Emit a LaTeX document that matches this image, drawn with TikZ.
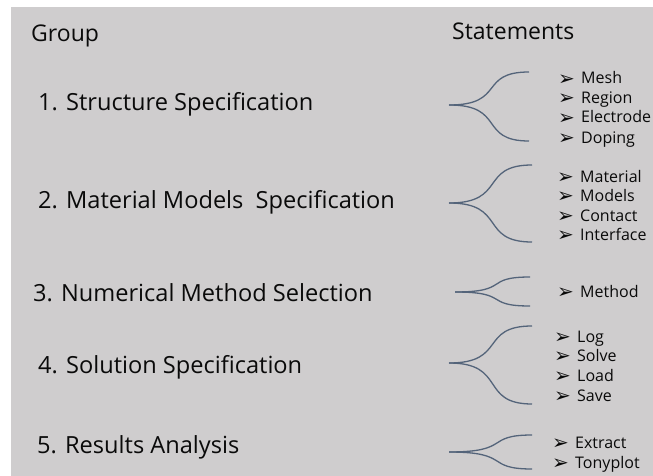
\documentclass[tikz,border=0pt]{standalone}
\usepackage{fontspec}
\setmainfont{Open Sans}
\newfontfamily\symfont{DejaVu Sans}
\definecolor{bggrey}{RGB}{207,205,206}
\definecolor{bracecol}{RGB}{84,100,122}
\definecolor{txt}{RGB}{10,10,10}
\begin{document}
\begin{tikzpicture}[x=1pt,y=-1pt,
  grp/.style={anchor=base west,inner sep=0pt,font=\fontsize{23.6}{27}\selectfont,text=txt},
  hdr/.style={anchor=base west,inner sep=0pt,font=\fontsize{23}{26}\selectfont,text=txt},
  itm/.style={anchor=base west,inner sep=0pt,font=\fontsize{16}{18}\selectfont,text=txt},
  bracestyle/.style={draw=bracecol,line width=1.3pt}]
\useasboundingbox (0,0) rectangle (653,476);
\fill[bggrey] (11,7) rectangle (653,476);
\newcommand{\itemtxt}[1]{\makebox[23pt][l]{\raisebox{-1.2pt}{\symfont\fontsize{20}{22}\selectfont ➢}}#1}
% headers
\node[hdr] (hgroup) at (31,42) {Group};
\node[hdr] (hstat) at (452,40) {Statements};
% groups
\node[grp] (g1) at (38,110.5) {1. Structure Specification};
\node[grp] (g2) at (38,208) {2. Material Models\ \ Specification};
\node[grp] (g3) at (33,301) {3. Numerical Method Selection};
\node[grp] (g4) at (38,373) {4. Solution Specification};
\node[grp] (g5) at (37,453) {5. Results Analysis};
% braces
\newcommand{\bracecurve}[5]{%
  \coordinate (tip#5) at (#1);
  \draw[bracestyle] (#1) .. controls (#2+14,\ty) and (#2-14,#3) .. (\ex,#3);
  \draw[bracestyle] (#1) .. controls (#2+14,\ty) and (#2-14,#4) .. (\ex,#4);}
\def\ty{105}\def\ex{529}
\bracecurve{449,105}{492}{72}{141}{a}
\def\ty{203}\def\ex{532}
\bracecurve{449,203}{493}{165}{242}{b}
\def\ty{292}\def\ex{530}
\bracecurve{455,292}{497}{277}{306}{c}
\def\ty{363}\def\ex{532}
\bracecurve{449,363}{493}{326}{404}{d}
\def\ty{452}\def\ex{532}
\bracecurve{449,452}{498}{435}{469}{e}
% items
\node[itm] (i1a) at (558,84) {\itemtxt{Mesh}};
\node[itm] (i1b) at (558,103.5) {\itemtxt{Region}};
\node[itm] (i1c) at (558,123) {\itemtxt{Electrode}};
\node[itm] (i1d) at (558,143) {\itemtxt{Doping}};
\node[itm] (i2a) at (557,182) {\itemtxt{Material}};
\node[itm] (i2b) at (557,201) {\itemtxt{Models}};
\node[itm] (i2c) at (557,221) {\itemtxt{Contact}};
\node[itm] (i2d) at (557,240) {\itemtxt{Interface}};
\node[itm] (i3a) at (557,297) {\itemtxt{Method}};
\node[itm] (i4a) at (554,342) {\itemtxt{Log}};
\node[itm] (i4b) at (554,361) {\itemtxt{Solve}};
\node[itm] (i4c) at (554,381) {\itemtxt{Load}};
\node[itm] (i4d) at (554,401) {\itemtxt{Save}};
\node[itm] (i5a) at (552,448) {\itemtxt{Extract}};
\node[itm] (i5b) at (552,468) {\itemtxt{Tonyplot}};
\end{tikzpicture}
\end{document}
